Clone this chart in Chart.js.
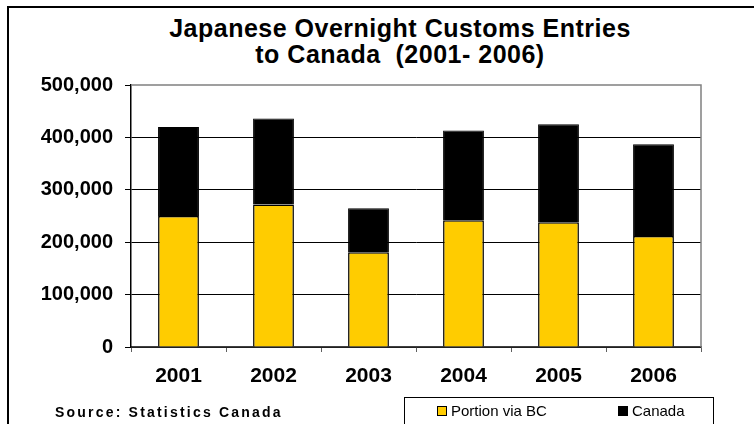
<!DOCTYPE html>
<html>
<head>
<meta charset="utf-8">
<script src="https://cdn.jsdelivr.net/npm/chart.js@4"></script>
<style>
    body { margin: 0; background: #fff; font-family: "Liberation Sans", Arial, sans-serif; }
    #wrap { position: relative; width: 754px; height: 424px; overflow: hidden; }
    #frame { position: absolute; left: 7px; top: 6px; width: 800px; height: 500px; border-left: 2px solid #000; border-top: 2px solid #000; }
    #title { position: absolute; left: 0; width: 800px; top: 15px; text-align: center; font-weight: bold; font-size: 25px; line-height: 26px; letter-spacing: 0.5px; color: #000; }
    #source { position: absolute; left: 55px; top: 404px; font-weight: bold; font-size: 14px; letter-spacing: 2.2px; }
    #legend { position: absolute; left: 404px; top: 397px; width: 308px; height: 50px; border: 1px solid #000; font-size: 15px; }
    .item { position: absolute; top: 4px; }
    .swatch { display: inline-block; width: 8px; height: 8px; border: 1px solid #000; margin-right: 4px; }
    canvas { position: absolute; left: 0; top: 0; }
</style>
</head>
<body>
<div id="wrap">
    <div id="frame"></div>
    <div id="title">Japanese Overnight Customs Entries<br>to Canada&nbsp; (2001- 2006)</div>
    <canvas id="entriesChart" width="754" height="424"></canvas>
    <div id="source">Source: Statistics Canada</div>
    <div id="legend">
        <span class="item" style="left:32px"><span class="swatch" style="background:#FFCC00"></span>Portion via BC</span>
        <span class="item" style="left:213px"><span class="swatch" style="background:#000"></span>Canada</span>
    </div>
</div>
<script>
const years = ['2001', '2002', '2003', '2004', '2005', '2006'];
// overnight entries that came through BC
const viaBC = [250000, 272000, 181000, 242000, 238000, 212000];
// total entries to Canada (top of each bar)
const canadaTotal = [420000, 436000, 265000, 413000, 425000, 387000];
const yTicks = [0, 100000, 200000, 300000, 400000, 500000];

// the black part of the bar is what is left after the BC part
const restOfCanada = canadaTotal.map((v, i) => v - viaBC[i]);

const plotFrame = {
    id: 'plotFrame',
    afterDatasetsDraw(chart) {
        const a = chart.chartArea;
        const ctx = chart.ctx;
        ctx.save();
        ctx.strokeStyle = '#808080';
        ctx.lineWidth = 1.5;
        ctx.beginPath();
        ctx.moveTo(a.left, a.top);
        ctx.lineTo(a.right, a.top);
        ctx.lineTo(a.right, a.bottom);
        ctx.stroke();
        ctx.restore();
    }
};

const ctx = document.getElementById('entriesChart').getContext('2d');
new Chart(ctx, {
    type: 'bar',
    data: {
        labels: years,
        datasets: [{
            label: 'Portion via BC',
            data: viaBC,
            backgroundColor: '#FFCC00',
            borderColor: '#000',
            borderWidth: 1.5
        }, {
            label: 'Canada',
            data: restOfCanada,
            backgroundColor: '#000',
            borderColor: '#000',
            borderWidth: 1
        }]
    },
    options: {
        responsive: false,
        animation: false,
        layout: {
            padding: { top: 85, right: 53, left: 0, bottom: 0 }
        },
        plugins: {
            legend: { display: false },
            title: { display: false },
            tooltip: { enabled: false }
        },
        datasets: {
            bar: { barPercentage: 0.86, categoryPercentage: 0.5 }
        },
        scales: {
            x: {
                stacked: true,
                afterFit: (scale) => { scale.height = 77; },
                grid: {
                    drawOnChartArea: false,
                    tickLength: 5,
                    tickColor: '#606060',
                    offset: true
                },
                border: { color: '#404040', width: 1.5 },
                ticks: {
                    padding: 12,
                    color: '#000',
                    font: { family: 'Liberation Sans', size: 21, weight: 'bold' }
                }
            },
            y: {
                stacked: true,
                min: 0,
                max: 500000,
                afterFit: (scale) => { scale.width = 131; },
                afterBuildTicks: (scale) => { scale.ticks = yTicks.map(v => ({ value: v })); },
                grid: {
                    color: (c) => (c.tick && c.tick.value === 500000) ? 'rgba(0,0,0,0)' : '#000',
                    lineWidth: 1,
                    tickLength: 6,
                    tickColor: '#000'
                },
                border: { color: '#000', width: 1.5 },
                ticks: {
                    padding: 12,
                    color: '#000',
                    font: { family: 'Liberation Sans', size: 20, weight: 'bold' },
                    callback: (v) => v.toLocaleString('en-US')
                }
            }
        }
    },
    plugins: [plotFrame]
});
</script>
</body>
</html>
